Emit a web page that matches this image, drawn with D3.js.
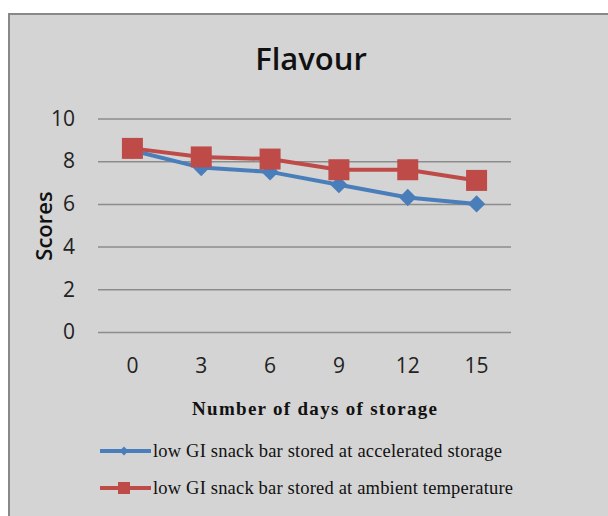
<!DOCTYPE html>
<meta charset="utf-8">
<style>
body { margin: 0; background: #fff; }
</style>
<svg width="608" height="516"></svg>
<script src="https://d3js.org/d3.v7.min.js"></script>
<script>

var days = ["0", "3", "6", "9", "12", "15"];
var accelerated = [8.5, 7.7, 7.5, 6.9, 6.3, 6.0];
var ambient = [8.6, 8.2, 8.1, 7.6, 7.6, 7.1];
var yTicks = [0, 2, 4, 6, 8, 10];
var seriesNames = ["low GI snack bar stored at accelerated storage",
                   "low GI snack bar stored at ambient temperature"];

var svg = d3.select("svg");

// grey chart panel
svg.append("rect")
    .attr("x", 9).attr("y", 14)
    .attr("width", 610).attr("height", 520)
    .attr("fill", "#d4d4d4")
    .attr("stroke", "#888").attr("stroke-width", 2);

var x = d3.scaleBand().domain(days).range([98, 511]);
var y = d3.scaleLinear().domain([0, 10]).range([332, 118.5]);

svg.append("text")
    .attr("x", 311).attr("y", 70)
    .attr("text-anchor", "middle")
    .attr("font-family", "Open Sans, sans-serif")
    .attr("font-weight", 600)
    .attr("font-size", 31)
    .attr("fill", "#111")
    .text("Flavour");

var gy = svg.append("g")
    .attr("transform", "translate(98,0)")
    .call(d3.axisLeft(y).tickValues(yTicks).tickSize(-413).tickPadding(23));
gy.select(".domain").remove();
gy.selectAll("line").attr("stroke", "#8c8c8c").attr("stroke-width", 1.5);
gy.selectAll("text")
    .attr("font-family", "Open Sans, sans-serif")
    .attr("font-size", 21).attr("fill", "#222");

var gx = svg.append("g")
    .attr("transform", "translate(0,332)")
    .call(d3.axisBottom(x).tickSize(0).tickPadding(26));
gx.select(".domain").remove();
gx.selectAll("text")
    .attr("font-family", "Open Sans, sans-serif")
    .attr("font-size", 21).attr("fill", "#222");

svg.append("text")
    .attr("transform", "translate(52,226) rotate(-90)")
    .attr("text-anchor", "middle")
    .attr("font-family", "Open Sans, sans-serif")
    .attr("font-weight", 600)
    .attr("font-size", 22)
    .attr("fill", "#111")
    .text("Scores");

svg.append("text")
    .attr("x", 192).attr("y", 415)
    .attr("textLength", 245).attr("lengthAdjust", "spacing")
    .attr("font-family", "Liberation Serif, serif")
    .attr("font-weight", "bold")
    .attr("font-size", 19)
    .attr("fill", "#111")
    .text("Number of days of storage");

var cx = function(d, i) { return x(days[i]) + x.bandwidth() / 2; };
var line = d3.line().x(cx).y(function(d) { return y(d); });

var blue = "#4a7ebb", red = "#be4b48";

svg.append("path").datum(accelerated)
    .attr("d", line).attr("fill", "none")
    .attr("stroke", blue).attr("stroke-width", 4);
svg.selectAll(".dia").data(accelerated).enter().append("path")
    .attr("d", d3.symbol(d3.symbolDiamond2, 190))
    .attr("transform", function(d, i) { return "translate(" + cx(d, i) + "," + y(d) + ")"; })
    .attr("fill", blue);

svg.append("path").datum(ambient)
    .attr("d", line).attr("fill", "none")
    .attr("stroke", red).attr("stroke-width", 4);
svg.selectAll(".sq").data(ambient).enter().append("rect")
    .attr("x", function(d, i) { return cx(d, i) - 10.5; })
    .attr("y", function(d) { return y(d) - 10.5; })
    .attr("width", 21).attr("height", 21)
    .attr("fill", red);

// legend
var legend = svg.append("g");
[[blue, 451], [red, 488]].forEach(function(c, i) {
  var g = legend.append("g").attr("transform", "translate(0," + c[1] + ")");
  g.append("line").attr("x1", 100).attr("x2", 151)
      .attr("stroke", c[0]).attr("stroke-width", 4);
  if (i === 0) {
    g.append("path").attr("d", d3.symbol(d3.symbolDiamond2, 50))
        .attr("transform", "translate(124,0)").attr("fill", c[0]);
  } else {
    g.append("rect").attr("x", 118).attr("y", -6).attr("width", 12).attr("height", 12)
        .attr("fill", c[0]);
  }
  g.append("text")
      .attr("x", 153).attr("y", 6)
      .attr("textLength", i === 0 ? 349 : 360).attr("lengthAdjust", "spacing")
      .attr("font-family", "Liberation Serif, serif")
      .attr("font-size", 18.5)
      .attr("fill", "#111")
      .text(seriesNames[i]);
});

</script>
